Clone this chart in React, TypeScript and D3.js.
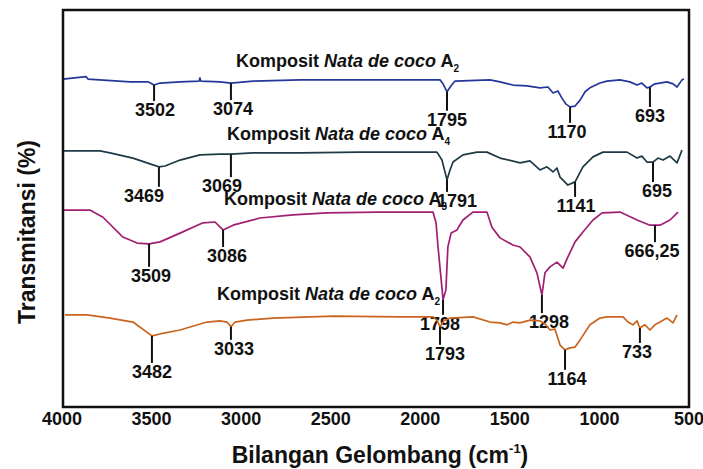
import * as d3 from "d3";

// FTIR spektra, [bilangan gelombang, transmitansi]
const spectrumA2: [number, number][] = [
  [3995, 82.6], [3865, 83.2], [3855, 82.6], [3620, 81.9], [3520, 81.9], [3486, 81.1],
  [3453, 81.6], [3341, 81.9], [3235, 82.1], [3230, 82.9], [3225, 82.1], [3118, 81.9],
  [3057, 81.6], [2934, 82.1], [2671, 82.4], [2337, 82.4], [1890, 82.4], [1873, 81.4],
  [1851, 79.4], [1828, 80.9], [1806, 82.1], [1611, 82.4], [1555, 81.9], [1483, 81.1],
  [1404, 80.9], [1332, 80.4], [1287, 80.6], [1259, 79.1], [1232, 79.6], [1209, 77.8],
  [1187, 76.3], [1164, 75.6], [1136, 75.8], [1108, 77.3], [1080, 79.4], [1053, 80.4],
  [997, 81.6], [958, 82.1], [885, 82.4], [830, 81.9], [790, 81.1], [763, 81.6],
  [735, 80.4], [718, 80.6], [690, 81.4], [662, 81.6], [623, 81.9], [589, 81.4],
  [567, 80.6], [539, 82.4], [528, 82.6],
];

const spectrumA4: [number, number][] = [
  [3995, 64.5], [3788, 64.5], [3732, 64.0], [3604, 62.7], [3492, 61.0], [3459, 60.5],
  [3425, 60.7], [3341, 62.2], [3230, 63.5], [3118, 63.7], [3057, 63.7], [2934, 64.0],
  [2671, 64.0], [2337, 64.2], [2113, 64.2], [1907, 64.2], [1879, 62.2], [1851, 57.2],
  [1834, 59.7], [1817, 61.7], [1762, 63.5], [1683, 64.2], [1628, 64.2], [1555, 62.7],
  [1443, 61.5], [1388, 62.0], [1332, 59.7], [1293, 60.5], [1259, 59.2], [1237, 60.2],
  [1220, 57.9], [1176, 55.9], [1136, 56.7], [1092, 60.5], [1036, 63.0], [980, 64.2],
  [846, 64.2], [790, 62.7], [763, 63.2], [735, 61.7], [701, 61.7], [673, 62.7],
  [645, 62.2], [606, 63.2], [567, 61.5], [539, 64.7],
];

const spectrumA3: [number, number][] = [
  [3995, 49.6], [3844, 49.6], [3771, 47.8], [3660, 42.8], [3581, 41.3], [3514, 41.1],
  [3453, 41.6], [3341, 43.8], [3213, 46.4], [3146, 46.6], [3101, 44.6], [3045, 45.8],
  [2895, 47.6], [2711, 48.4], [2521, 48.9], [2242, 49.1], [1929, 49.1], [1912, 46.4],
  [1901, 40.3], [1879, 30.0], [1873, 27.0], [1857, 29.5], [1846, 40.3], [1828, 43.8],
  [1795, 44.6], [1762, 47.1], [1706, 49.1], [1628, 49.1], [1600, 45.3], [1555, 42.6],
  [1483, 40.8], [1443, 40.3], [1388, 37.8], [1349, 33.8], [1321, 28.2], [1304, 33.8],
  [1276, 35.3], [1237, 36.5], [1203, 35.0], [1176, 37.8], [1136, 41.6], [1092, 44.1],
  [1036, 47.1], [985, 48.9], [885, 49.1], [790, 47.1], [718, 45.8], [662, 45.8],
  [606, 47.1], [561, 49.1],
];

const spectrumA1: [number, number][] = [
  [3983, 23.2], [3860, 23.2], [3732, 22.4], [3604, 21.4], [3498, 17.9], [3453, 18.4],
  [3341, 19.4], [3191, 21.4], [3118, 21.7], [3079, 21.4], [3057, 20.2], [3034, 21.4],
  [2967, 21.9], [2822, 22.4], [2487, 22.9], [2113, 22.7], [1929, 22.7], [1907, 21.9],
  [1890, 20.2], [1868, 21.7], [1834, 22.4], [1706, 22.7], [1611, 21.4], [1555, 21.2],
  [1516, 20.7], [1483, 21.4], [1443, 21.2], [1388, 21.9], [1332, 21.7], [1304, 20.9],
  [1276, 19.4], [1248, 19.6], [1220, 15.6], [1192, 14.4], [1164, 14.9], [1136, 15.1],
  [1108, 16.9], [1053, 20.7], [997, 22.4], [958, 22.7], [868, 22.7], [841, 21.4],
  [813, 20.7], [790, 21.7], [774, 19.9], [746, 20.7], [718, 19.4], [690, 20.7],
  [662, 21.4], [623, 22.4], [589, 21.2], [567, 23.2],
];

// puncak yang ditandai: [label, bilangan gelombang]
const peaksA2: [string, number][] = [["3502", 3486], ["3074", 3057], ["1795", 1851], ["1170", 1164], ["693", 718]];
const peaksA4: [string, number][] = [["3469", 3459], ["3069", 3057], ["1791", 1851], ["1141", 1136], ["695", 701]];
const peaksA3: [string, number][] = [["3509", 3514], ["3086", 3101], ["1798", 1873], ["1298", 1321], ["666,25", 690]];
const peaksA1: [string, number][] = [["3482", 3498], ["3033", 3057], ["1793", 1890], ["1164", 1192], ["733", 774]];

const xTicks = [4000, 3500, 3000, 2500, 2000, 1500, 1000, 500];

// label placement: [drop below trace (px), horizontal shift (px)]
const nudges: Record<string, [number, number]> = {
  "3502": [31, 1], "3074": [32, 2], "1795": [34, 0], "1170": [31, -3], "693": [35, 0],
  "3469": [35, -15], "3069": [38, -9], "1791": [27, 10], "1141": [30, 1], "695": [35, 4],
  "3509": [38, 2], "3086": [32, 4], "1798": [30, -3], "1298": [33, 7], "666,25": [32, -3],
  "3482": [42, 0], "3033": [28, 3], "1793": [33, 5], "1164": [35, 2], "733": [30, -3],
};

const series = [
  { name: "2", data: spectrumA2, peaks: peaksA2, color: "#23389a", labelX: 236, labelY: 67 },
  { name: "4", data: spectrumA4, peaks: peaksA4, color: "#1e3a46", labelX: 227, labelY: 140 },
  { name: "3", data: spectrumA3, peaks: peaksA3, color: "#a01f72", labelX: 224, labelY: 205 },
  { name: "2", data: spectrumA1, peaks: peaksA1, color: "#c9651f", labelX: 217, labelY: 300 },
];

const W = 703;
const H = 469;
const box = { left: 63, right: 689, top: 10, bottom: 407 };
const FONT = "Liberation Sans, Arial, sans-serif";

function valueAt(data: [number, number][], wn: number) {
  for (let i = 0; i < data.length - 1; i++) {
    const [x0, y0] = data[i];
    const [x1, y1] = data[i + 1];
    if (wn <= x0 && wn >= x1) {
      const t = x0 === x1 ? 0 : (x0 - wn) / (x0 - x1);
      return y0 + (y1 - y0) * t;
    }
  }
  return data[data.length - 1][1];
}

export default function App() {
  const x = d3.scaleLinear().domain([4000, 500]).range([62, 689]);
  const y = d3.scaleLinear().domain([0, 100]).range([box.bottom, box.top]);

  const line = d3
    .line<[number, number]>()
    .x((d) => x(d[0]))
    .y((d) => y(d[1]));

  return (
    <svg width={W} height={H} style={{ position: "absolute", left: 0, top: 0, background: "#fff" }} fontFamily={FONT}>
      <rect x={0} y={0} width={W} height={H} fill="#fff" />

      {series.map((s, i) => (
        <g key={i}>
          <path d={line(s.data) ?? ""} fill="none" stroke={s.color} strokeWidth={1.7} strokeLinejoin="round" />
          <text x={s.labelX} y={s.labelY} fontSize={18} fontWeight="bold" fill="#111">
            <tspan>Komposit </tspan>
            <tspan fontStyle="italic">Nata de coco</tspan>
            <tspan> A</tspan>
            <tspan fontSize={10} dy={5}>{s.name}</tspan>
          </text>
          {s.peaks.map(([label, wn]) => {
            const [drop, dx] = nudges[label] ?? [32, 0];
            const px = x(wn);
            const top = y(valueAt(s.data, wn));
            const base = top + drop;
            return (
              <g key={label}>
                <line x1={px} x2={px} y1={top} y2={base - 15} stroke="#111" strokeWidth={2} />
                <text x={px + dx} y={base} fontSize={18} fontWeight="bold" textAnchor="middle" fill="#111">
                  {label}
                </text>
              </g>
            );
          })}
        </g>
      ))}

      <rect
        x={box.left}
        y={box.top}
        width={box.right - box.left}
        height={box.bottom - box.top}
        fill="none"
        stroke="#111"
        strokeWidth={2.5}
      />

      {xTicks.map((t) => (
        <text key={t} x={x(t)} y={425} fontSize={18} fontWeight="bold" textAnchor="middle" fill="#111">
          {t}
        </text>
      ))}

      <text x={380} y={463} fontSize={23} fontWeight="bold" textAnchor="middle" fill="#111">
        Bilangan Gelombang (cm
        <tspan fontSize={13} dy={-10}>-1</tspan>
        <tspan dy={10}>)</tspan>
      </text>
      <text
        transform="translate(35,232) rotate(-90)"
        fontSize={23}
        fontWeight="bold"
        textAnchor="middle"
        fill="#111"
      >
        Transmitansi (%)
      </text>
    </svg>
  );
}
